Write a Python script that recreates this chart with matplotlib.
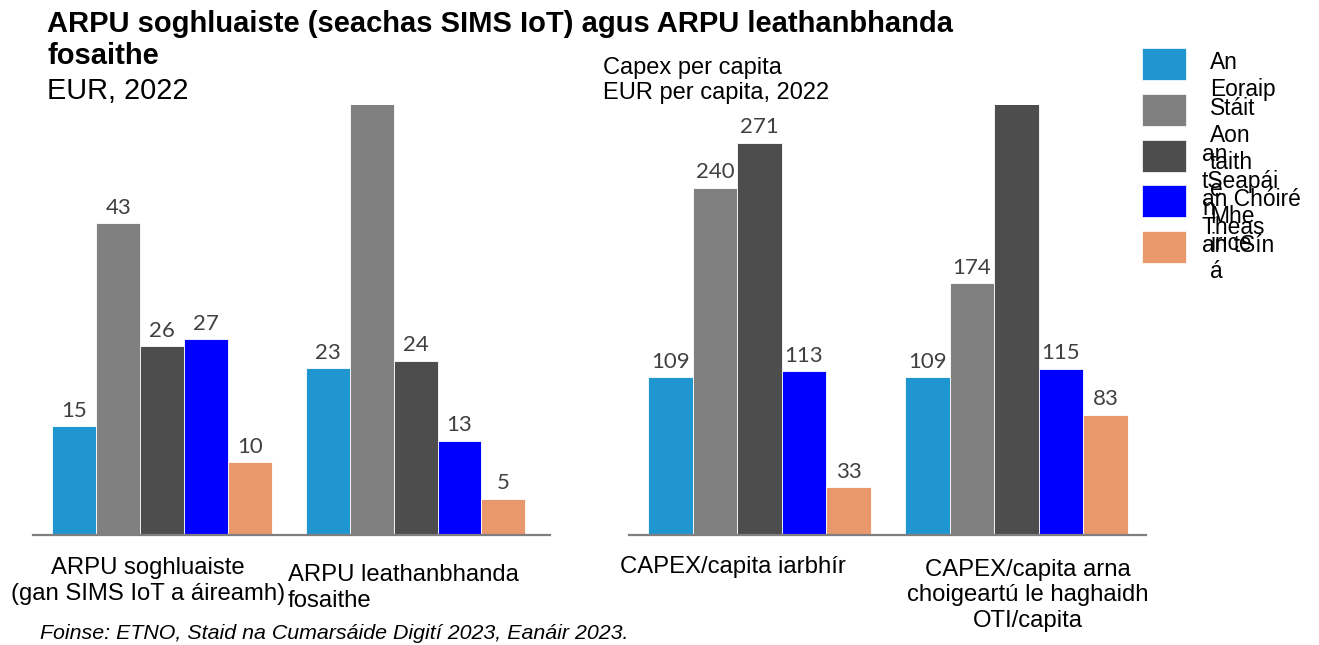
import matplotlib
matplotlib.use("Agg")
import matplotlib.pyplot as plt
import matplotlib.patches as mpatches
import numpy as np

plt.rcParams['font.family'] = ['Liberation Sans', 'DejaVu Sans']

# --- data ---
series = ["An\nEoraip", "Stáit\nAon\ntaith\ne\nMhe\nirice\ná", "an\ntSeapái\nn", "an Chóiré\nTheas", "an tSín"]
colors = ["#1f96d0", "#808080", "#4d4d4d", "#0000ff", "#e8986a"]

arpu_cats = ["ARPU soghluaiste\n(gan SIMS IoT a áireamh)", "ARPU leathanbhanda\nfosaithe"]
arpu_vals = [
    [15, 23],   # An Eoraip
    [43, 65],   # SAM (2nd bar runs off the top)
    [26, 24],   # an tSeapáin
    [27, 13],   # an Chóiré Theas
    [10, 5],    # an tSín
]

capex_cats = ["CAPEX/capita iarbhír", "CAPEX/capita arna\nchoigeartú le haghaidh\nOTI/capita"]
capex_vals = [
    [109, 109],
    [240, 174],
    [271, 330],  # 2nd bar runs off the top
    [113, 115],
    [33, 83],
]

W, H = 1319, 645
fig = plt.figure(figsize=(W / 100, H / 100), dpi=100)

bar_w = 0.173
num_font = dict(family=['Lato', 'DejaVu Sans'], fontsize=16, color='#404040')


def draw_panel(ax, cats, vals, ymax, xlim, lab_offsets, lab_align):
    x = np.arange(len(cats))
    n = len(vals)
    for i, v in enumerate(vals):
        pos = x + (i - (n - 1) / 2) * bar_w
        bars = ax.bar(pos, v, width=bar_w, color=colors[i], edgecolor='white', linewidth=0.6)
        for b, val in zip(bars, v):
            if val <= ymax:
                ax.annotate(str(val), (b.get_x() + b.get_width() / 2, val),
                            xytext=(0, 4), textcoords='offset points',
                            ha='center', va='bottom', **num_font)
    ax.set_ylim(0, ymax)
    ax.set_xlim(*xlim)
    for s in ['top', 'left', 'right']:
        ax.spines[s].set_visible(False)
    ax.spines['bottom'].set_color('#7f7f7f')
    ax.spines['bottom'].set_linewidth(1.6)
    ax.set_yticks([])
    ax.set_xticks([])
    for xi, cat, off, (ha, dy) in zip(x, cats, lab_offsets, lab_align):
        ax.annotate(cat, (xi + off, 0), xycoords=('data', 'axes fraction'),
                    xytext=(0, dy), textcoords='offset points',
                    ha=ha, va='top', multialignment='center' if ha == 'center' else 'left',
                    fontsize=17.2, color='black', linespacing=1.22)


ax1 = fig.add_axes([33 / W, 110 / H, 517 / W, 430 / H])
draw_panel(ax1, arpu_cats, arpu_vals, 59.3, (-0.509, 1.53),
           [-0.055, -0.503], [('center', -16), ('left', -21)])

ax2 = fig.add_axes([629 / W, 110 / H, 517 / W, 430 / H])
draw_panel(ax2, capex_cats, capex_vals, 297, (-0.508, 1.504),
           [-0.103, 0.045], [('center', -15), ('center', -17)])

# titles
fig.text(47 / W, 1 - 10 / H, "ARPU soghluaiste (seachas SIMS IoT) agus ARPU leathanbhanda\nfosaithe",
         fontsize=21, fontweight='bold', va='top', linespacing=1.2)
fig.text(47 / W, 1 - 77 / H, "EUR, 2022", fontsize=20.8, va='top')
fig.text(603 / W, 1 - 57 / H, "Capex per capita\nEUR per capita, 2022", fontsize=17, va='top',
         linespacing=1.2)

# legend
for i, (lab, c) in enumerate(zip(series, colors)):
    top = 48 + i * 45.8
    fig.add_artist(mpatches.Rectangle((1142 / W, 1 - (top + 32) / H), 44 / W, 32 / H,
                                      facecolor=c, edgecolor='white', linewidth=0.5,
                                      transform=fig.transFigure))
    tx = 1210 if i < 2 else 1202
    fig.text(tx / W, 1 - (top + 3) / H, lab, fontsize=16.4, va='top', linespacing=1.23)

fig.text(40 / W, 1 - 624 / H, "Foinse: ETNO, Staid na Cumarsáide Digití 2023, Eanáir 2023.",
         fontsize=15.4, style='italic', va='top')

fig.savefig("out.png", dpi=100)
